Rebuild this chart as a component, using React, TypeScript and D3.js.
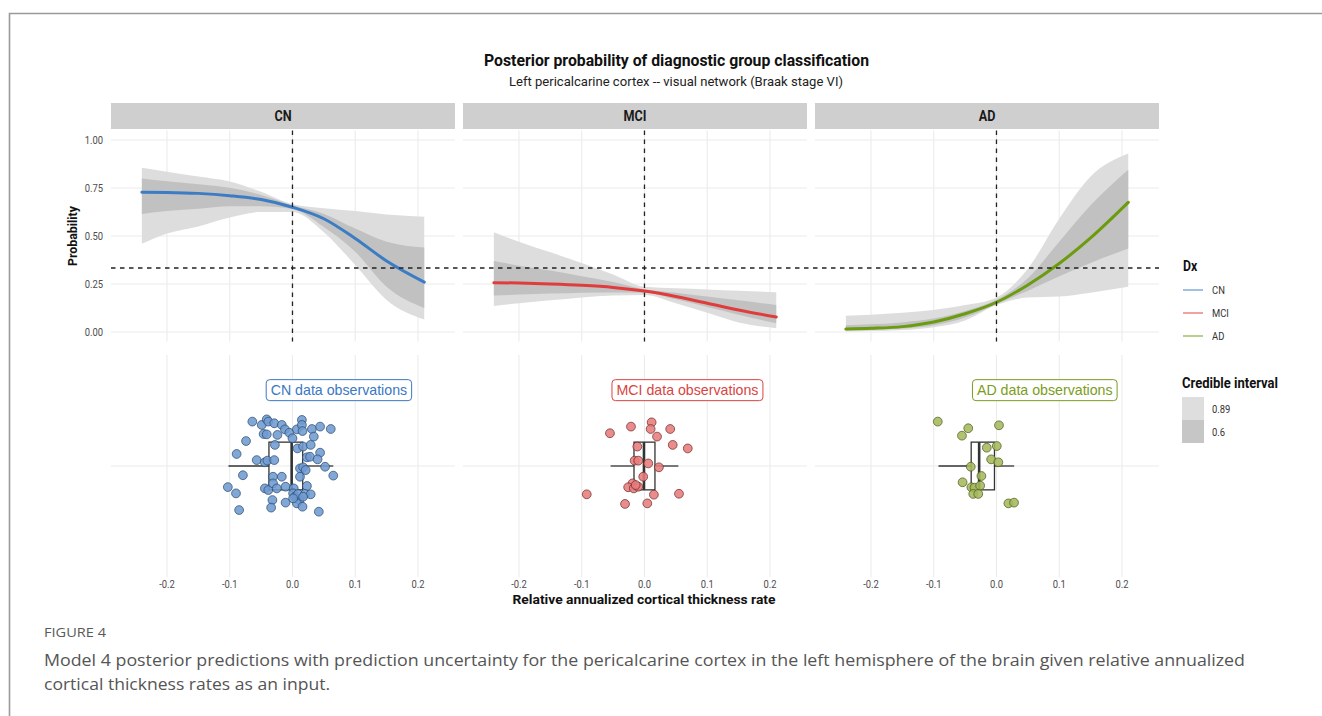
import React, { useLayoutEffect, useRef, useState } from "react";
import * as d3 from "d3";

// ---- data -------------------------------------------------------------
const groups = ["CN", "MCI", "AD"];
const lineColors = ["#3b7cc4", "#e03c3c", "#6b9b0e"];
const labelColors = ["#3a78c2", "#d94343", "#7c9c1c"];
const pointFills = ["#6f9bd2", "#e87c7c", "#a5b85c"];
const pointStrokes = ["#2a4a70", "#6e2a2a", "#4a5a20"];

const xTicks = [-0.2, -0.1, 0, 0.1, 0.2];
const yTicks = [0, 0.25, 0.5, 0.75, 1];
const yTickLabels = ["0.00", "0.25", "0.50", "0.75", "1.00"];
const xTickLabels = ["-0.2", "-0.1", "0.0", "0.1", "0.2"];
const chanceLevel = 1 / 3;
const intervalLevels = ["0.89", "0.6"];

// prediction grid (relative annualized cortical thickness rate)
const gridX = [-0.24, -0.2, -0.15, -0.1, -0.05, 0, 0.05, 0.1, 0.15, 0.21];

const cnMean = [0.728, 0.727, 0.722, 0.71, 0.69, 0.65, 0.59, 0.487, 0.37, 0.26];
const cnHi89 = [0.855, 0.835, 0.81, 0.784, 0.73, 0.665, 0.645, 0.63, 0.612, 0.6];
const cnLo89 = [0.46, 0.513, 0.55, 0.596, 0.625, 0.625, 0.52, 0.349, 0.167, 0.065];
const cnHi60 = [0.8, 0.785, 0.77, 0.751, 0.714, 0.66, 0.615, 0.539, 0.47, 0.44];
const cnLo60 = [0.615, 0.63, 0.642, 0.655, 0.655, 0.64, 0.547, 0.418, 0.236, 0.125];

const mciMean = [0.257, 0.255, 0.25, 0.243, 0.232, 0.213, 0.185, 0.15, 0.115, 0.078];
const mciHi89 = [0.52, 0.47, 0.415, 0.36, 0.3, 0.236, 0.228, 0.222, 0.215, 0.207];
const mciLo89 = [0.136, 0.15, 0.165, 0.18, 0.19, 0.193, 0.15, 0.1, 0.05, 0.02];
const mciHi60 = [0.37, 0.345, 0.32, 0.29, 0.26, 0.222, 0.205, 0.185, 0.165, 0.141];
const mciLo60 = [0.19, 0.195, 0.2, 0.205, 0.206, 0.205, 0.17, 0.13, 0.09, 0.045];

const adMean = [0.015, 0.019, 0.028, 0.052, 0.095, 0.155, 0.245, 0.357, 0.49, 0.675];
const adHi89 = [0.085, 0.09, 0.1, 0.115, 0.14, 0.18, 0.33, 0.59, 0.81, 0.93];
const adLo89 = [0.003, 0.005, 0.01, 0.025, 0.06, 0.14, 0.18, 0.185, 0.205, 0.236];
const adHi60 = [0.035, 0.04, 0.05, 0.07, 0.11, 0.168, 0.28, 0.47, 0.66, 0.845];
const adLo60 = [0.008, 0.011, 0.018, 0.035, 0.075, 0.145, 0.215, 0.29, 0.36, 0.435];

// observed rates: [rate, vertical jitter]
const cnObs: [number, number][] = [
  [-0.064, 0.24], [-0.049, 0.222], [-0.041, 0.252], [-0.0385, 0.24], [-0.029, 0.231],
  [-0.017, 0.222], [-0.012, 0.198], [-0.005, 0.18], [0.0, 0.15], [0.007, 0.198],
  [0.015, 0.249], [0.015, 0.222], [0.016, 0.189], [0.031, 0.2], [0.044, 0.213],
  [0.061, 0.2], [0.034, 0.159], [-0.046, 0.173], [-0.041, 0.171], [-0.024, 0.168],
  [-0.074, 0.135], [-0.028, 0.114], [0.008, 0.095], [0.017, 0.105], [0.029, 0.114],
  [0.044, 0.072], [-0.089, 0.065], [-0.057, 0.032], [-0.044, 0.02], [-0.04, 0.029],
  [-0.029, 0.032], [0.023, 0.047], [0.028, 0.05], [0.04, 0.036], [0.012, -0.013],
  [0.017, -0.007], [0.021, -0.022], [0.052, -0.004], [-0.079, -0.05], [-0.031, -0.058],
  [-0.017, -0.058], [0.012, -0.058], [0.065, -0.052], [-0.103, -0.114], [-0.044, -0.121],
  [-0.0385, -0.13], [-0.031, -0.094], [-0.025, -0.121], [-0.011, -0.112], [0.002, -0.121],
  [0.023, -0.108], [-0.09, -0.148], [0.001, -0.148], [0.004, -0.166], [0.007, -0.175],
  [0.011, -0.184], [0.009, -0.151], [0.02, -0.151], [0.029, -0.153], [-0.032, -0.184],
  [-0.011, -0.198], [0.007, -0.202], [0.016, -0.22], [-0.034, -0.225], [-0.085, -0.238],
  [0.042, -0.247], [0.017, -0.166], [0.001, -0.175],
];
const mciObs: [number, number][] = [
  [-0.055, 0.177], [-0.0215, 0.213], [0.0114, 0.236], [0.0098, 0.2], [0.02, 0.159],
  [0.041, 0.2], [0.045, 0.114], [0.069, 0.095], [-0.0114, 0.105], [-0.0157, 0.029],
  [-0.0098, 0.029], [0.006, 0.014], [0.023, -0.007], [-0.002, -0.058], [-0.019, -0.094],
  [-0.026, -0.115], [-0.017, -0.121], [-0.01, -0.112], [-0.014, -0.103], [-0.092, -0.153],
  [0.015, -0.155], [0.055, -0.15], [-0.031, -0.205], [0.0045, -0.202],
];
const adObs: [number, number][] = [
  [-0.0935, 0.24], [-0.045, 0.204], [-0.055, 0.164], [0.004, 0.22], [-0.0154, 0.099],
  [0.0005, 0.108], [-0.0085, 0.036], [0.003, 0.02], [-0.041, -0.004], [-0.024, -0.054],
  [-0.054, -0.088], [-0.04, -0.115], [-0.035, -0.117], [-0.026, -0.106], [-0.037, -0.151],
  [-0.029, -0.151], [0.019, -0.202], [0.028, -0.198],
];

// boxplot summaries per group
const boxQ1 = [-0.0375, -0.0167, -0.0403];
const boxMedian = [-0.0013, -0.0008, -0.0276];
const boxQ3 = [0.0163, 0.0167, -0.0032];
const whiskerLo = [-0.102, -0.054, -0.0924];
const whiskerHi = [0.065, 0.054, 0.0282];

const labelRate = [0.074, 0.0685, 0.077];
const labelJitter = 0.41;

const means = [cnMean, mciMean, adMean];
const hi89 = [cnHi89, mciHi89, adHi89];
const lo89 = [cnLo89, mciLo89, adLo89];
const hi60 = [cnHi60, mciHi60, adHi60];
const lo60 = [cnLo60, mciLo60, adLo60];
const observations = [cnObs, mciObs, adObs];

// ---- layout -----------------------------------------------------------
const W = 1322;
const H = 716;
const panelX0 = 111;
const panelW = 344;
const panelGap = 8;
const topY0 = 130.4;
const topY1 = 341.6;
const botY0 = 355;
const botY1 = 577;
const stripY0 = 103;
const stripH = 26;

const COND = "Roboto, 'Liberation Sans', sans-serif";
const axisGrey = "#4d4d4d";
const gridColor = "#ebebeb";
const outerBand = "#dadada";
const innerBand = "#bebebe";
const tickSize = 11.5;
const tickSx = 0.82;

const yTop = d3.scaleLinear().domain([-0.05, 1.05]).range([topY1, topY0]);
const yBot = d3.scaleLinear().domain([-0.6, 0.6]).range([botY1, botY0]);
const panelScale = (i: number) =>
  d3
    .scaleLinear()
    .domain([-0.2892, 0.259])
    .range([panelX0 + i * (panelW + panelGap), panelX0 + i * (panelW + panelGap) + panelW]);

function LabelBox({ x, y, text, color }: { x: number; y: number; text: string; color: string }) {
  const ref = useRef<SVGTextElement>(null);
  const [w, setW] = useState(140);
  useLayoutEffect(() => {
    if (ref.current) setW(ref.current.getComputedTextLength());
  }, [text]);
  const padX = 4.5;
  const h = 21;
  return (
    <g>
      <rect
        x={x - w / 2 - padX}
        y={y - h / 2}
        width={w + 2 * padX}
        height={h}
        rx={3.5}
        fill="#fff"
        stroke={color}
        strokeWidth={1}
      />
      <text
        ref={ref}
        x={x}
        y={y + 5}
        textAnchor="middle"
        fontFamily="'Liberation Sans', Arial, sans-serif"
        fontSize={14.2}
        fill={color}
      >
        {text}
      </text>
    </g>
  );
}

function Panel({ i }: { i: number }) {
  const x = panelScale(i);
  const [xa, xb] = x.range();
  const area = (lo: number[], hi: number[]) =>
    d3
      .area<number>()
      .x((_, k) => x(gridX[k]))
      .y0((_, k) => yTop(lo[k]))
      .y1((_, k) => yTop(hi[k]))
      .curve(d3.curveMonotoneX)(gridX) || "";
  const line =
    d3
      .line<number>()
      .x((_, k) => x(gridX[k]))
      .y((_, k) => yTop(means[i][k]))
      .curve(d3.curveMonotoneX)(gridX) || "";
  const yc = yBot(0);
  const boxTop = yBot(0.129);
  const boxBot = yBot(-0.129);
  const cx = (xa + xb) / 2;
  return (
    <g>
      {/* strip */}
      <rect x={xa} y={stripY0} width={panelW} height={stripH} fill="#cfcfcf" />
      <text
        x={0}
        y={0}
        textAnchor="middle"
        fontFamily={COND}
        fontWeight="bold"
        fontSize={14}
        fill="#1a1a1a"
        transform={`translate(${cx},${stripY0 + 18}) scale(0.9,1)`}
      >
        {groups[i]}
      </text>

      {/* grid: top panel */}
      {yTicks.map((t) => (
        <line key={"h" + t} x1={xa} x2={xb} y1={yTop(t)} y2={yTop(t)} stroke={gridColor} strokeWidth={1.1} />
      ))}
      {xTicks.map((t) => (
        <line key={"v" + t} x1={x(t)} x2={x(t)} y1={topY0} y2={topY1} stroke={gridColor} strokeWidth={1.1} />
      ))}
      {/* grid: bottom panel */}
      <line x1={xa} x2={xb} y1={yc} y2={yc} stroke={gridColor} strokeWidth={1.1} />
      {xTicks.map((t) => (
        <line key={"bv" + t} x1={x(t)} x2={x(t)} y1={botY0} y2={botY1} stroke={gridColor} strokeWidth={1.1} />
      ))}

      {/* credible bands and mean */}
      <path d={area(lo89[i], hi89[i])} fill={outerBand} opacity={0.92} />
      <path d={area(lo60[i], hi60[i])} fill={innerBand} opacity={0.92} />
      <path d={line} fill="none" stroke={lineColors[i]} strokeWidth={3} strokeLinecap="round" />

      {/* reference line at zero */}
      <line x1={x(0)} x2={x(0)} y1={topY0} y2={topY1} stroke="#222" strokeWidth={1.3} strokeDasharray="4.5,4.5" />

      {/* boxplot */}
      <line x1={x(whiskerLo[i])} x2={x(boxQ1[i])} y1={yc} y2={yc} stroke="#333" strokeWidth={1.3} />
      <line x1={x(boxQ3[i])} x2={x(whiskerHi[i])} y1={yc} y2={yc} stroke="#333" strokeWidth={1.3} />
      <rect
        x={x(boxQ1[i])}
        y={boxTop}
        width={x(boxQ3[i]) - x(boxQ1[i])}
        height={boxBot - boxTop}
        fill="none"
        stroke="#333"
        strokeWidth={1.3}
      />
      <line x1={x(boxMedian[i])} x2={x(boxMedian[i])} y1={boxTop} y2={boxBot} stroke="#333" strokeWidth={2.6} />

      {/* observations */}
      {observations[i].map(([r, j], k) => (
        <circle
          key={k}
          cx={x(r)}
          cy={yBot(j)}
          r={4.4}
          fill={pointFills[i]}
          fillOpacity={0.88}
          stroke={pointStrokes[i]}
          strokeOpacity={0.8}
          strokeWidth={0.9}
        />
      ))}

      <LabelBox x={x(labelRate[i])} y={yBot(labelJitter)} text={`${groups[i]} data observations`} color={labelColors[i]} />

      {/* x axis labels */}
      {xTicks.map((t, k) => (
        <text
          key={"xl" + t}
          x={0}
          y={0}
          textAnchor="middle"
          fontFamily={COND}
          fontSize={tickSize}
          fill={axisGrey}
          transform={`translate(${x(t)},${587.5}) scale(${tickSx},1)`}
        >
          {xTickLabels[k]}
        </text>
      ))}
    </g>
  );
}

export default function App() {
  const fullX0 = panelX0;
  const fullX1 = panelX0 + 3 * panelW + 2 * panelGap;
  return (
    <svg
      width={W}
      height={H}
      viewBox={`0 0 ${W} ${H}`}
      style={{ position: "absolute", left: 0, top: 0, background: "#fff" }}
    >
      <rect x={0} y={0} width={W} height={H} fill="#fff" />
      {/* frame */}
      <path d={`M${W},13.5 H9.5 V${H}`} fill="none" stroke="#9a9a9a" strokeWidth={1.6} />

      {/* titles */}
      <text
        x={676.5}
        y={66}
        textAnchor="middle"
        fontFamily={COND}
        fontWeight="bold"
        fontSize={16}
        fill="#111"
        textLength={385}
        lengthAdjust="spacingAndGlyphs"
      >
        Posterior probability of diagnostic group classification
      </text>
      <text
        x={676}
        y={86}
        textAnchor="middle"
        fontFamily={COND}
        fontSize={13}
        fill="#222"
        textLength={334}
        lengthAdjust="spacingAndGlyphs"
      >
        Left pericalcarine cortex -- visual network (Braak stage VI)
      </text>

      {groups.map((_, i) => (
        <Panel key={i} i={i} />
      ))}

      {/* chance level line across all panels */}
      <line
        x1={fullX0}
        x2={fullX1}
        y1={yTop(chanceLevel)}
        y2={yTop(chanceLevel)}
        stroke="#222"
        strokeWidth={1.3}
        strokeDasharray="4.5,4.5"
      />

      {/* y axis */}
      {yTicks.map((t, k) => (
        <text
          key={"yl" + t}
          x={0}
          y={0}
          textAnchor="end"
          fontFamily={COND}
          fontSize={tickSize}
          fill={axisGrey}
          transform={`translate(103,${yTop(t) + 4}) scale(${tickSx},1)`}
        >
          {yTickLabels[k]}
        </text>
      ))}
      <text
        transform={`translate(77,236) rotate(-90)`}
        textAnchor="middle"
        fontFamily={COND}
        fontWeight="bold"
        fontSize={13.5}
        fill="#111"
        textLength={60}
        lengthAdjust="spacingAndGlyphs"
      >
        Probability
      </text>

      {/* x axis title */}
      <text
        x={644}
        y={604}
        textAnchor="middle"
        fontFamily={COND}
        fontWeight="bold"
        fontSize={13.5}
        fill="#111"
        textLength={263}
        lengthAdjust="spacingAndGlyphs"
      >
        Relative annualized cortical thickness rate
      </text>

      {/* legend: Dx */}
      <text
        x={0}
        y={0}
        fontFamily={COND}
        fontWeight="bold"
        fontSize={14}
        fill="#111"
        transform="translate(1183,271) scale(0.88,1)"
      >
        Dx
      </text>
      {groups.map((g, k) => (
        <g key={"lg" + g}>
          <line
            x1={1183}
            x2={1203}
            y1={290 + k * 23}
            y2={290 + k * 23}
            stroke={lineColors[k]}
            strokeOpacity={0.6}
            strokeWidth={1.6}
          />
          <text
            x={0}
            y={0}
            fontFamily={COND}
            fontSize={tickSize}
            fill="#333"
            transform={`translate(1212,${294 + k * 23}) scale(${tickSx},1)`}
          >
            {g}
          </text>
        </g>
      ))}

      {/* legend: credible interval */}
      <text
        x={1182}
        y={388}
        fontFamily={COND}
        fontWeight="bold"
        fontSize={14}
        fill="#111"
        textLength={96}
        lengthAdjust="spacingAndGlyphs"
      >
        Credible interval
      </text>
      {intervalLevels.map((lv, k) => (
        <g key={"ci" + lv}>
          <rect x={1182} y={397 + k * 23} width={22} height={23} fill={k === 0 ? "#dedede" : "#c6c6c6"} />
          <text
            x={0}
            y={0}
            fontFamily={COND}
            fontSize={tickSize}
            fill="#333"
            transform={`translate(1212,${413 + k * 23}) scale(${tickSx},1)`}
          >
            {lv}
          </text>
        </g>
      ))}

      {/* caption */}
      <text
        x={44}
        y={637}
        fontFamily="'Open Sans', 'Noto Sans', sans-serif"
        fontSize={12.5}
        fill="#5a5a5a"
        textLength={62}
        lengthAdjust="spacingAndGlyphs"
      >
        FIGURE 4
      </text>
      <text
        x={44}
        y={666}
        fontFamily="'Open Sans', 'Noto Sans', sans-serif"
        fontSize={16.5}
        fill="#555"
        textLength={1201}
        lengthAdjust="spacingAndGlyphs"
      >
        Model 4 posterior predictions with prediction uncertainty for the pericalcarine cortex in the left hemisphere of the brain given relative annualized
      </text>
      <text
        x={44}
        y={690}
        fontFamily="'Open Sans', 'Noto Sans', sans-serif"
        fontSize={16.5}
        fill="#555"
        textLength={286}
        lengthAdjust="spacingAndGlyphs"
      >
        cortical thickness rates as an input.
      </text>
    </svg>
  );
}
